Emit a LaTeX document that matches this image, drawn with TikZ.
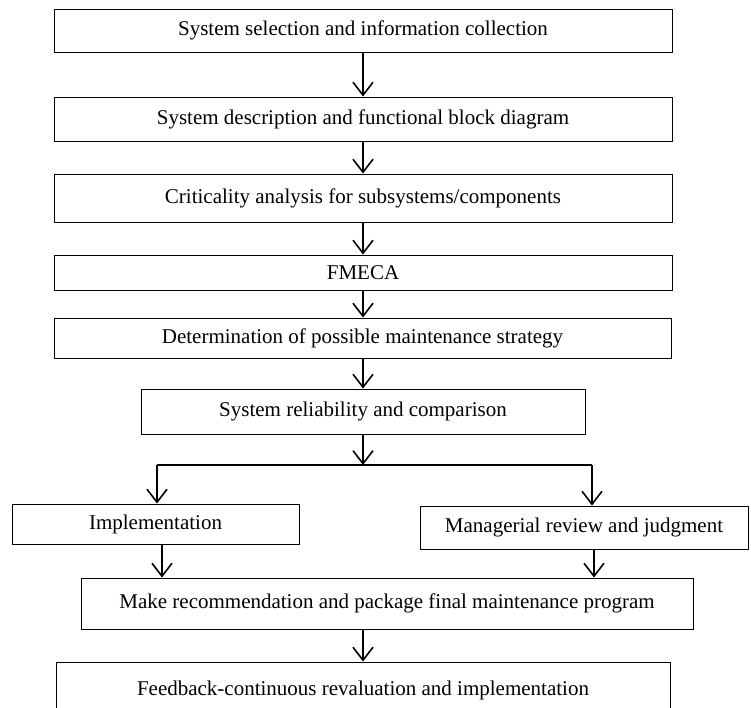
\documentclass[tikz,border=0pt]{standalone}
\usepackage{fontspec}
\setmainfont{Liberation Serif}
\usepackage{tikz}
\usetikzlibrary{arrows.meta}

\begin{document}
\begin{tikzpicture}[
  x=1pt, y=-1pt,
  font=\fontsize{21}{25}\selectfont,
  stage/.style={rectangle, draw, line width=0.9pt, align=center, inner sep=0pt},
  link/.style={-{Straight Barb[length=13pt,width=20pt]}, line width=1.6pt},
  branch/.style={line width=1.2pt}
]
\useasboundingbox (0,0) rectangle (751,708);
\clip (0,0) rectangle (751,708);
% main column
\node[stage, minimum width=618pt, minimum height=43pt] (select)  at (363,30.5) {System selection and information collection};
\node[stage, minimum width=618pt, minimum height=44pt] (describe) at (363,119)  {System description and functional block diagram};
\node[stage, minimum width=618pt, minimum height=48pt] (critic)  at (363,198)  {Criticality analysis for subsystems/components};
\node[stage, minimum width=618pt, minimum height=35pt] (fmeca)   at (363,272.5){FMECA};
\node[stage, minimum width=617pt, minimum height=40pt] (strategy) at (362.5,338) {Determination of possible maintenance strategy};
\node[stage, minimum width=444pt, minimum height=45pt] (reliab)  at (363,411.5){System reliability and comparison};
% two branches
\node[stage, minimum width=287pt, minimum height=40pt] (impl)    at (155.5,524){Implementation};
\node[stage, minimum width=328pt, minimum height=43pt] (review)  at (584,527.5){Managerial review and judgment};
% final steps
\node[stage, minimum width=612pt, minimum height=51pt] (recomm)  at (387,603.5){Make recommendation and package final maintenance program};
\node[stage, minimum width=614pt, minimum height=56pt] (feedback) at (363,690){Feedback-continuous revaluation and implementation};
% split point
\coordinate (split)  at (363,465);
\coordinate (splitL) at (157,465);
\coordinate (splitR) at (592,465);
% links
\draw[link] (select) -- (describe);
\draw[link] (describe) -- (critic);
\draw[link] (critic) -- (fmeca);
\draw[link] (fmeca) -- (strategy.north -| fmeca);
\draw[link] (strategy.south -| reliab) -- (reliab);
\draw[link] (reliab) -- (split);
\draw[branch] (splitL) -- (splitR);
\draw[link] (splitL) -- (splitL |- impl.north);
\draw[link] (splitR) -- (splitR |- review.north);
\draw[link] ([xshift=6.5pt]impl.south) -- ([xshift=6.5pt]impl.south |- recomm.north);
\draw[link] ([xshift=10pt]review.south) -- ([xshift=10pt]review.south |- recomm.north);
\draw[link] (recomm.south -| feedback) -- (feedback);
\end{tikzpicture}
\end{document}
